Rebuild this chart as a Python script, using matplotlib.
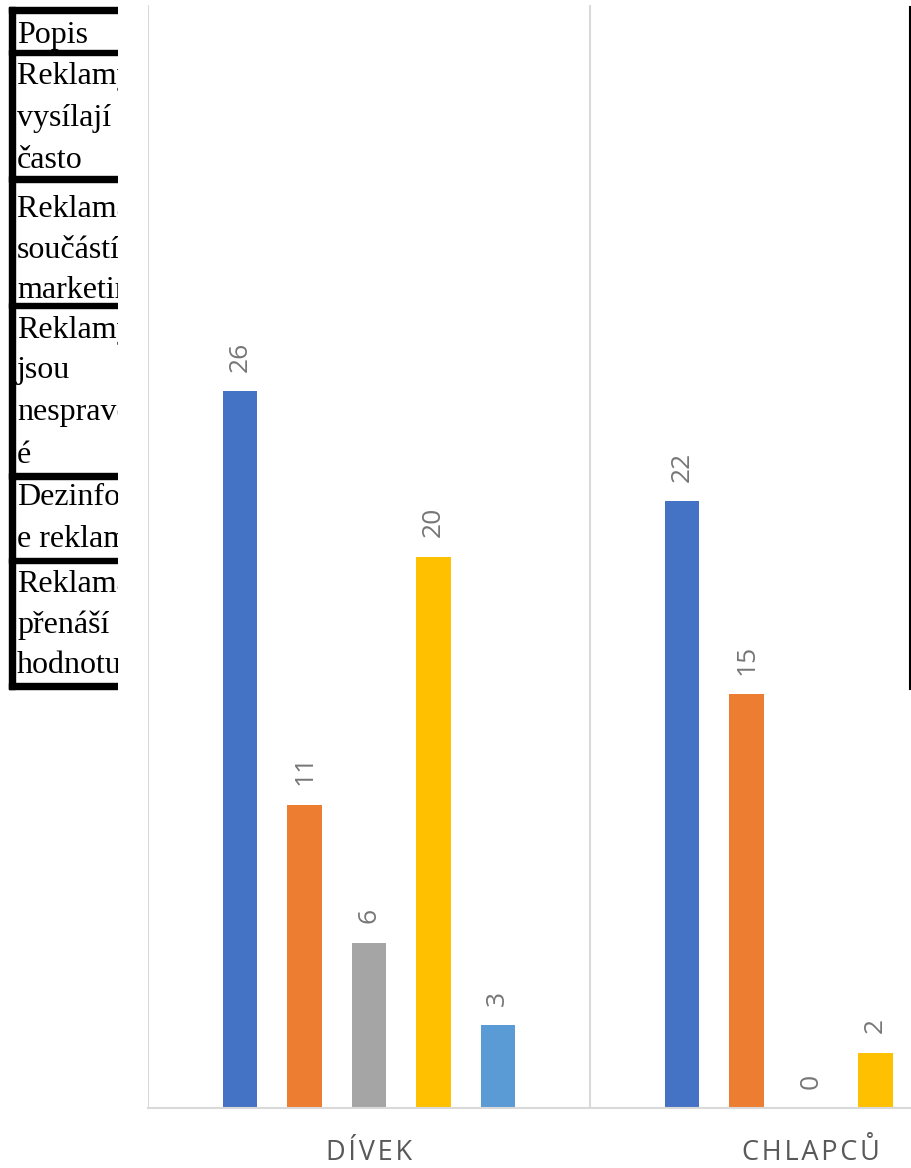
import matplotlib
matplotlib.use("Agg")
import matplotlib.pyplot as plt
from matplotlib.lines import Line2D
from matplotlib.patches import Rectangle

W, H = 912, 1168

# ---- data ----
categories = ["DÍVEK", "CHLAPCŮ"]
series_colors = ["#4472C4", "#ED7D31", "#A5A5A5", "#FFC000", "#5B9BD5"]
s1 = [26, 22]
s2 = [11, 15]
s3 = [6, 0]
s4 = [20, 2]
s5 = [3, 0]
series = [s1, s2, s3, s4, s5]

table_rows = [
    ["Popis"],
    ["Reklamy se", "vysílají", "často"],
    ["Reklama je", "součástí", "marketingu"],
    ["Reklamy", "jsou", "nespravedliv", "é"],
    ["Dezinformac", "e reklamy"],
    ["Reklama", "přenáší", "hodnotu"],
]

fig = plt.figure(figsize=(W / 100, H / 100), dpi=100)

def fx(px):
    return px / W

def fy(py):
    return 1 - py / H

# ---- chart axes (extends past right edge like the cropped original) ----
left_px, right_px, top_px, bot_px = 148, 1032, 5, 1108
ax = fig.add_axes([fx(left_px), fy(bot_px), (right_px - left_px) / W, (bot_px - top_px) / H])
ax.set_xlim(0, 2)
ax.set_ylim(0, 40)
for sp in ["top", "right", "left"]:
    ax.spines[sp].set_visible(False)
ax.spines["bottom"].set_color("#D9D9D9")
ax.spines["bottom"].set_linewidth(1.5)
ax.set_yticks([])
ax.tick_params(axis="x", length=0, pad=22)
for xv in [0, 1, 2]:
    ax.axvline(xv, color="#D9D9D9", lw=1.5, zorder=0)

step = 0.1457
bw = 0.0775
label_color = "#767676"
for i, (vals, col) in enumerate(zip(series, series_colors)):
    xs = [g + 0.5 + (i - 2) * step for g in range(len(categories))]
    ax.bar(xs, vals, width=bw, color=col, zorder=2)
    for x, v in zip(xs, vals):
        if x > (912 - left_px) / 442.0:
            continue  # label lies beyond the visible (cropped) area
        ax.annotate(str(v), (x, v), xytext=(0, 14), textcoords="offset points",
                    rotation=90, ha="center", va="bottom", fontsize=19,
                    color=label_color, family=["Open Sans", "DejaVu Sans"])

spaced = ["\u200a".join(c) for c in categories]
ax.set_xticks([0.5, 1.5])
ax.set_xticklabels(spaced, fontsize=19.5, color="#595959",
                   family=["Open Sans", "DejaVu Sans"])

# ---- clipped table overlay at top-left ----
tax = fig.add_axes([0, 0, fx(118), 1])
tax.set_xlim(0, 118)
tax.set_ylim(H, 0)
tax.axis("off")

baselines = [
    [43],
    [84, 126, 168],
    [217, 258, 298],
    [338, 378, 420, 463],
    [505, 547],
    [592, 633, 673],
]
for lines, bls in zip(table_rows, baselines):
    for t, b in zip(lines, bls):
        tax.text(17, b, t, fontsize=23, family="Liberation Serif", color="black",
                 va="baseline", ha="left", clip_on=True)

borders_y = [(7, 13), (50, 55), (176, 182), (303, 308), (473, 479), (558, 563), (683, 689)]
for y0, y1 in borders_y:
    tax.add_patch(Rectangle((9, y0), 118, y1 - y0, color="black", clip_on=True))
tax.add_patch(Rectangle((9, 7), 6, 682, color="black", clip_on=True))

fig.add_artist(Line2D([fx(910.5), fx(910.5)], [fy(7), fy(689)], color="black", lw=1.5))

fig.savefig("out.png", dpi=100)
